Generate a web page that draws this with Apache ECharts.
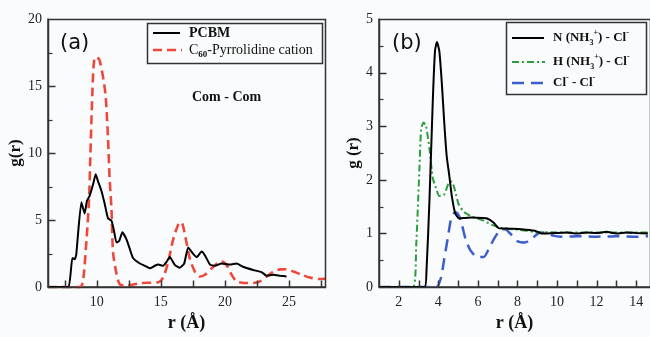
<!DOCTYPE html>
<html>
<head>
<meta charset="utf-8">
<script src="https://cdn.jsdelivr.net/npm/echarts@6/dist/echarts.min.js"></script>
<style>html,body{margin:0;padding:0;background:#fafbfd;}#c{width:650px;height:337px;}</style>
</head>
<body>
<div id="c"></div>
<script>
// ---- Panel (a): Com - Com g(r) ----
var pcbmR = [6.2, 7.0, 7.8, 8.1, 8.28, 8.4, 8.8, 9.06, 9.24, 9.45, 9.71, 9.92, 10.1, 10.37, 10.62, 10.88, 11.15, 11.33, 11.54, 11.75, 12.0, 12.32, 12.58, 12.83, 13.36, 13.75, 14.14, 14.53, 14.8, 15.18, 15.44, 15.7, 16.1, 16.48, 16.82, 17.13, 17.52, 17.79, 18.18, 18.44, 18.83, 19.22, 19.74, 20.39, 20.9, 21.4, 22.2, 22.86, 23.26, 23.78, 24.3, 24.8];
var pcbmG = [0, 0, 0, 2.17, 2.07, 2.4, 6.33, 5.49, 6.45, 6.81, 7.65, 8.42, 7.89, 7.17, 6.21, 5.13, 4.96, 4.28, 3.32, 3.44, 4.09, 3.56, 2.84, 2.17, 1.76, 1.59, 1.40, 1.59, 1.68, 1.59, 1.88, 2.24, 1.64, 1.45, 1.76, 2.96, 2.48, 2.24, 2.65, 2.36, 1.68, 1.59, 1.76, 1.68, 1.76, 1.52, 1.28, 1.11, 0.85, 0.92, 0.85, 0.79];
var c60R = [6.2, 8.7, 8.93, 9.2, 9.4, 9.5, 9.66, 9.79, 10.0, 10.23, 10.54, 10.7, 10.88, 11.0, 11.15, 11.27, 11.54, 11.8, 12.3, 13.4, 14.79, 15.18, 15.57, 15.96, 16.35, 16.6, 16.8, 17.0, 17.26, 17.65, 18.04, 18.44, 18.96, 19.48, 19.75, 20.13, 20.52, 20.9, 21.56, 22.2, 22.73, 23.26, 23.78, 24.3, 24.8, 25.33, 25.98, 26.6, 27.3, 27.8];
var c60G = [0, 0, 0.43, 3.5, 6.5, 9.7, 14.5, 16.85, 17.2, 16.9, 15.4, 14.2, 11.1, 8.2, 5.8, 2.6, 1.0, 0.2, 0.1, 0.3, 0.36, 0.72, 1.88, 3.56, 4.65, 4.85, 4.28, 3.32, 2.12, 1.16, 0.79, 0.92, 1.40, 1.83, 1.9, 1.64, 0.92, 0.43, 0.31, 0.31, 0.43, 0.79, 1.16, 1.32, 1.33, 1.16, 0.92, 0.72, 0.6, 0.62];
var aXLabels = [10, 15, 20, 25];
var aXTicks = [7.5, 10, 12.5, 15, 17.5, 20, 22.5, 25, 27.5];
var aYMajor = [5, 10, 15];
var aYMinor = [2.5, 7.5, 12.5, 17.5];

// ---- Panel (b): ion pair g(r) ----
var nR = [1, 3.3, 3.4, 3.55, 3.72, 3.83, 3.93, 4.05, 4.18, 4.3, 4.42, 4.55, 4.68, 4.85, 5.05, 5.38, 5.72, 6.22, 6.47, 6.8, 7.05, 7.55, 8.2, 8.88, 9.22, 10, 10.5, 11, 11.5, 12, 12.5, 13, 13.5, 14, 14.6];
var nG = [0, 0, 0.3, 1.61, 3.48, 4.4, 4.57, 4.4, 3.78, 3.06, 2.45, 2.09, 1.70, 1.38, 1.28, 1.29, 1.30, 1.29, 1.28, 1.20, 1.10, 1.09, 1.08, 1.05, 1.0, 1.01, 1.02, 1.0, 1.02, 1.01, 1.03, 1.0, 1.02, 1.01, 1.0];
var hR = [1, 2.72, 2.88, 3.05, 3.13, 3.25, 3.38, 3.55, 3.72, 3.88, 4.05, 4.3, 4.52, 4.68, 4.85, 5.02, 5.3, 5.72, 6.22, 6.72, 7.22, 8.05, 8.88, 10, 12, 14.6];
var hG = [0, 0, 0.77, 2.27, 2.94, 3.07, 3.0, 2.58, 2.03, 1.85, 1.70, 1.73, 1.94, 1.97, 1.79, 1.55, 1.40, 1.31, 1.25, 1.16, 1.10, 1.07, 1.03, 1.02, 1.02, 1.02];
var clR = [1, 3.9, 4.13, 4.3, 4.47, 4.63, 4.8, 4.92, 5.13, 5.38, 5.63, 5.97, 6.3, 6.55, 6.8, 7.13, 7.38, 7.63, 7.97, 8.38, 8.72, 9.05, 9.38, 9.8, 10.2, 11, 12, 13, 14, 14.6];
var clG = [0, 0, 0.17, 0.53, 0.9, 1.25, 1.38, 1.39, 1.25, 0.89, 0.68, 0.56, 0.56, 0.71, 0.89, 1.07, 1.08, 1.0, 0.86, 0.83, 0.9, 1.0, 1.02, 0.96, 0.94, 0.95, 0.94, 0.95, 0.94, 0.95];
var bXLabels = [2, 4, 6, 8, 10, 12, 14];
var bXTicks = [2, 3, 4, 5, 6, 7, 8, 9, 10, 11, 12, 13, 14];
var bYMajor = [1, 2, 3, 4];
var bYMinor = [0.5, 1.5, 2.5, 3.5, 4.5];

var aXRange = [6.2, 27.8], aYMax = 20;
var bXRange = [1, 14.7], bYMax = 5;

function pairs(xs, ys) { return xs.map(function (x, i) { return [x, ys[i]]; }); }

var SERIF = 'Liberation Serif';
var BG = '#fafbfd';
var AX = '#333';

function xAxisCfg(gi, rng, labels) {
  return {
    type: 'value', gridIndex: gi, position: 'bottom', min: rng[0], max: rng[1],
    name: 'r (Å)', nameLocation: 'middle', nameGap: 19,
    nameTextStyle: { fontFamily: SERIF, fontWeight: 'bold', fontSize: 18, color: '#111' },
    axisLine: { show: true, onZero: false, lineStyle: { color: AX, width: 1.5 } },
    axisTick: { show: false },
    axisLabel: { customValues: labels, margin: 8, fontFamily: SERIF, fontSize: 14, color: '#222' },
    splitLine: { show: false }
  };
}
function yAxisCfg(gi, max, interval, name, gap) {
  return {
    type: 'value', gridIndex: gi, position: 'left', min: 0, max: max, interval: interval,
    name: name, nameLocation: 'middle', nameRotate: 90, nameGap: gap,
    nameTextStyle: { fontFamily: SERIF, fontWeight: 'bold', fontSize: 17, color: '#111' },
    axisLine: { show: true, onZero: false, lineStyle: { color: AX, width: 1.5 } },
    axisTick: { show: false },
    axisLabel: { margin: 6, fontFamily: SERIF, fontSize: 14, color: '#222' },
    splitLine: { show: false }
  };
}

function legendGraphics() {
  var supSub = {
    b: { fontFamily: SERIF, fontSize: 13, fontWeight: 'bold', lineHeight: 18, fill: '#111' },
    sub: { fontFamily: SERIF, fontSize: 8, fontWeight: 'bold', lineHeight: 8, verticalAlign: 'bottom', fill: '#111' },
    sup: { fontFamily: SERIF, fontSize: 8, fontWeight: 'bold', lineHeight: 8, verticalAlign: 'top', fill: '#111' }
  };
  return [
    { type: 'text', left: 60, top: 33, style: { text: '(a)', font: '21px "DejaVu Sans"', fill: '#111' } },
    { type: 'text', left: 392, top: 33, style: { text: '(b)', font: '21px "DejaVu Sans"', fill: '#111' } },
    { type: 'text', left: 192, top: 90, style: { text: 'Com - Com', font: 'bold 14px "Liberation Serif"', fill: '#111' } },
    { type: 'rect', shape: { x: 147.5, y: 23.5, width: 175, height: 40 }, style: { fill: BG, stroke: AX, lineWidth: 1.5 }, z: 10 },
    { type: 'line', shape: { x1: 153, y1: 33, x2: 180, y2: 33 }, style: { stroke: '#000', lineWidth: 2 }, z: 11 },
    { type: 'line', shape: { x1: 153, y1: 50, x2: 182, y2: 50 }, style: { stroke: '#f0473b', lineWidth: 2.6, lineDash: [9, 5] }, z: 11 },
    { type: 'text', x: 189, y: 33, z: 11, style: { text: 'PCBM', font: 'bold 14px "Liberation Serif"', fill: '#111', verticalAlign: 'middle' } },
    { type: 'text', x: 189, y: 50, z: 11, style: {
        text: '{n|C}{sub|60}{n|-Pyrrolidine cation}', verticalAlign: 'middle',
        rich: {
          n: { fontFamily: SERIF, fontSize: 14, lineHeight: 18, fill: '#111' },
          sub: { fontFamily: SERIF, fontSize: 9, fontWeight: 'bold', lineHeight: 9, verticalAlign: 'bottom', fill: '#111' }
        } } },
    { type: 'rect', shape: { x: 506.5, y: 22.5, width: 140, height: 72 }, style: { fill: BG, stroke: AX, lineWidth: 1.5 }, z: 10 },
    { type: 'line', shape: { x1: 512, y1: 38, x2: 544, y2: 38 }, style: { stroke: '#000', lineWidth: 2 }, z: 11 },
    { type: 'line', shape: { x1: 512, y1: 62, x2: 545, y2: 62 }, style: { stroke: '#2a9d3c', lineWidth: 2, lineDash: [7, 3, 2, 3] }, z: 11 },
    { type: 'line', shape: { x1: 512, y1: 83, x2: 545, y2: 83 }, style: { stroke: '#3a5fcd', lineWidth: 2.5, lineDash: [12, 7] }, z: 11 },
    { type: 'text', x: 553, y: 38, z: 11, style: { text: '{b|N (NH}{sub|3}{sup|+}{b|) - Cl}{sup|-}', verticalAlign: 'middle', rich: supSub } },
    { type: 'text', x: 553, y: 62, z: 11, style: { text: '{b|H (NH}{sub|3}{sup|+}{b|) - Cl}{sup|-}', verticalAlign: 'middle', rich: supSub } },
    { type: 'text', x: 553, y: 83, z: 11, style: { text: '{b|Cl}{sup|-}{b| - Cl}{sup|-}', verticalAlign: 'middle', rich: supSub } }
  ];
}

var chart = echarts.init(document.getElementById('c'), null, { renderer: 'canvas' });
chart.setOption({
  backgroundColor: BG,
  animation: false,
  grid: [
    { left: 48, top: 19, width: 277, height: 277 },
    { left: 379, top: 19, width: 273, height: 277 }
  ],
  xAxis: [xAxisCfg(0, aXRange, aXLabels), xAxisCfg(1, bXRange, bXLabels)],
  yAxis: [yAxisCfg(0, aYMax, 5, 'g(r)', 24), yAxisCfg(1, bYMax, 1, 'g (r)', 15)],
  series: [
    { type: 'line', name: 'C60-Pyrrolidine cation', xAxisIndex: 0, yAxisIndex: 0, data: pairs(c60R, c60G), showSymbol: false, smooth: 0.25,
      lineStyle: { color: '#f0473b', width: 2.6, type: [9, 5] } },
    { type: 'line', name: 'PCBM', xAxisIndex: 0, yAxisIndex: 0, data: pairs(pcbmR, pcbmG), showSymbol: false, smooth: 0.15,
      lineStyle: { color: '#000', width: 2 } },
    { type: 'line', name: 'Cl- - Cl-', xAxisIndex: 1, yAxisIndex: 1, data: pairs(clR, clG), showSymbol: false, smooth: 0.2,
      lineStyle: { color: '#3a5fcd', width: 2.5, type: [12, 7] } },
    { type: 'line', name: 'H (NH3+) - Cl-', xAxisIndex: 1, yAxisIndex: 1, data: pairs(hR, hG), showSymbol: false, smooth: 0.2,
      lineStyle: { color: '#2a9d3c', width: 2, type: [7, 3, 2, 3] } },
    { type: 'line', name: 'N (NH3+) - Cl-', xAxisIndex: 1, yAxisIndex: 1, data: pairs(nR, nG), showSymbol: false, smooth: 0.2,
      lineStyle: { color: '#000', width: 2 } }
  ]
});

// Frame and inside ticks placed through the chart's own scales (pixel-snapped).
function snap(v) { return Math.round(v) + 0.5; }
function frameAndTicks(gi, xr, ymax, xTicks, yMajor, yMinor) {
  var out = [];
  function P(x, y) { return chart.convertToPixel({ xAxisIndex: gi, yAxisIndex: gi }, [x, y]); }
  var p0 = P(xr[0], 0), p1 = P(xr[1], ymax);
  if (!p0 || !p1) return out;
  var L = snap(Math.min(p0[0], p1[0])), R = snap(Math.max(p0[0], p1[0]));
  var T = snap(Math.min(p0[1], p1[1])), B = snap(Math.max(p0[1], p1[1]));
  var ls = { stroke: AX, lineWidth: 1.5 };
  out.push({ type: 'rect', silent: true, z: 50, shape: { x: L, y: T, width: R - L, height: B - T }, style: { fill: null, stroke: AX, lineWidth: 1.5 } });
  xTicks.forEach(function (v) {
    var x = snap(P(v, 0)[0]);
    out.push({ type: 'line', silent: true, z: 50, shape: { x1: x, y1: B, x2: x, y2: B - 7 }, style: ls });
  });
  yMajor.forEach(function (v) {
    var y = snap(P(xr[0], v)[1]);
    out.push({ type: 'line', silent: true, z: 50, shape: { x1: L, y1: y, x2: L + 7, y2: y }, style: ls });
  });
  yMinor.forEach(function (v) {
    var y = snap(P(xr[0], v)[1]);
    out.push({ type: 'line', silent: true, z: 50, shape: { x1: L, y1: y, x2: L + 4, y2: y }, style: { stroke: AX, lineWidth: 1.2 } });
  });
  return out;
}

var extra = legendGraphics()
  .concat(frameAndTicks(0, aXRange, aYMax, aXTicks, aYMajor, aYMinor))
  .concat(frameAndTicks(1, bXRange, bYMax, bXTicks, bYMajor, bYMinor));
chart.setOption({ graphic: extra });
</script>
</body>
</html>
